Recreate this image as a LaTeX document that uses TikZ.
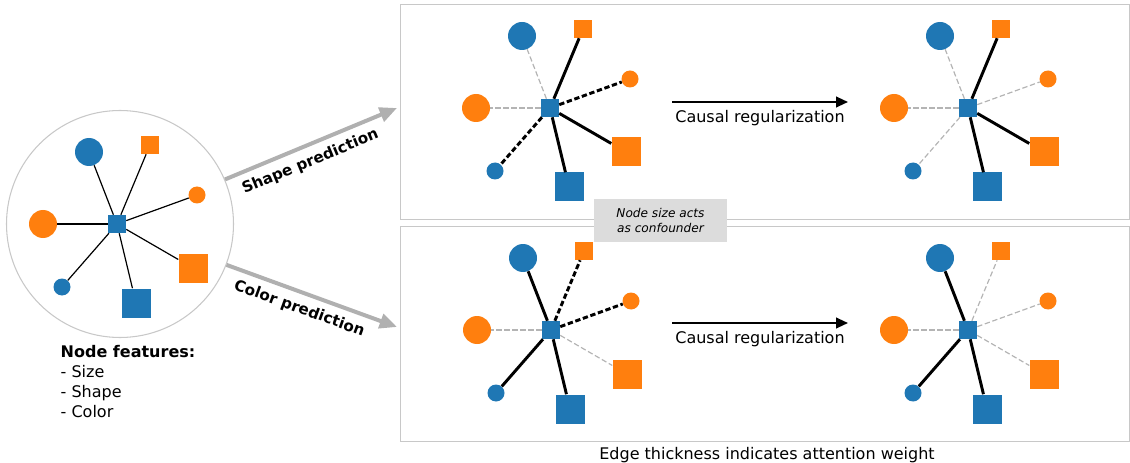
\documentclass[tikz,border=0pt]{standalone}
\usepackage{fontspec}
\setmainfont{DejaVu Sans}
\usetikzlibrary{arrows.meta}
\definecolor{tabblue}{HTML}{1F77B4}
\definecolor{taborange}{HTML}{FF7F0E}
\definecolor{edgegray}{HTML}{B4B4B4}
\definecolor{arrowgray}{HTML}{B0B0B0}
\definecolor{framegray}{HTML}{C8C8C8}
\definecolor{boxgray}{HTML}{DCDCDC}
\newcommand{\pxu}{0.75pt}
\tikzset{
	hub/.style={rectangle, fill=tabblue, minimum size=18*\pxu, inner sep=0pt},
	bigsq/.style={rectangle, minimum size=29*\pxu, inner sep=0pt},
	smallsq/.style={rectangle, minimum size=18*\pxu, inner sep=0pt},
	bigdot/.style={circle, minimum size=28*\pxu, inner sep=0pt},
	smalldot/.style={circle, minimum size=17*\pxu, inner sep=0pt},
	plain/.style={black, line width=0.9pt},
	weak/.style={edgegray, line width=0.9pt, dash pattern=on 4pt off 2pt},
	strong/.style={black, line width=2.2pt},
	strongdash/.style={black, line width=2.2pt, dash pattern=on 4pt off 2pt},
	bigarrow/.style={arrowgray, line width=3pt, -{Triangle[length=13pt, width=11pt]}},
	arrowlabel/.style={pos=0.46, below=2pt, sloped, text=black,
		font=\fontsize{11.4pt}{13pt}\selectfont\bfseries},
	causal/.style={black, line width=1.5pt, -{Triangle[length=9pt, width=8pt]}},
	frame/.style={draw=framegray, line width=0.8pt}
}
% one star graph: #1 centre, #2 name prefix, #3 leaf/edge style list
\newcommand{\stargraph}[3]{
	\begin{scope}[shift={#1}]
		\node[hub] (#2c) at (0,0) {};
		\node[bigdot, fill=tabblue] (#2bbd) at (-28,-72) {};
		\node[smallsq, fill=taborange] (#2sos) at (33,-79) {};
		\node[smalldot, fill=taborange] (#2sod) at (80,-29) {};
		\node[bigdot, fill=taborange] (#2bod) at (-74,0) {};
		\node[bigsq, fill=taborange] (#2bos) at (76,44) {};
		\node[smalldot, fill=tabblue] (#2sbd) at (-55,63) {};
		\node[bigsq, fill=tabblue] (#2bbs) at (19,79) {};
		\foreach \leaf/\sty in {#3}
		\draw[\sty] (#2c) -- (#2\leaf);
	\end{scope}}
\begin{document}
\begin{tikzpicture}[x=0.75pt, y=-0.75pt, font=\fontsize{12pt}{15pt}\selectfont]
	\useasboundingbox (0,0) rectangle (1130,463);
	% input graph
	\node[circle, draw=framegray, line width=0.8pt, minimum size=227*\pxu] (ring) at (120,224) {};
	\stargraph{(117,224)}{L}{bbd/plain,sos/plain,sod/plain,bod/plain,
		bos/plain,sbd/plain,bbs/plain}
	\node[anchor=north west, align=left] (feat) at (56,341)
	{\textbf{Node features:}\\- Size\\- Shape\\- Color};
	% panels
	\node[frame, minimum width=729*\pxu, minimum height=215*\pxu,
	anchor=north west] (toppanel) at (400,4) {};
	\node[frame, minimum width=729*\pxu, minimum height=215*\pxu,
	anchor=north west] (botpanel) at (400,226) {};
	\coordinate (shapetip) at (397,108);
	\coordinate (colortip) at (397,327);
	\draw[bigarrow] (ring.23) -- (shapetip) node[arrowlabel] {Shape prediction};
	\draw[bigarrow] (ring.-21) -- (colortip) node[arrowlabel] {Color prediction};
	% attention graphs
	\stargraph{(550,108)}{TA}{bbd/weak,sos/strong,sod/strongdash,bod/weak,
		bos/strong,sbd/strongdash,bbs/strong}
	\stargraph{(968,108)}{TB}{bbd/weak,sos/strong,sod/weak,bod/weak,
		bos/strong,sbd/weak,bbs/strong}
	\stargraph{(551,330)}{BA}{bbd/strong,sos/strongdash,sod/strongdash,bod/weak,
		bos/weak,sbd/strong,bbs/strong}
	\stargraph{(968,330)}{BB}{bbd/strong,sos/weak,sod/weak,bod/weak,
		bos/weak,sbd/strong,bbs/strong}
	\foreach \y/\nm in {102/topreg, 323/botreg} {
		\coordinate (\nm a) at (672,\y);
		\coordinate (\nm b) at (848,\y);
		\draw[causal] (\nm a) -- (\nm b)
		node[midway, below=2pt] {Causal regularization};
	}
	\node[fill=boxgray, minimum width=133*\pxu, minimum height=43*\pxu,
	align=center, font=\fontsize{9.1pt}{10.8pt}\selectfont\itshape] (confound) at (660.5,220.5)
	{Node size acts\\as confounder};
	\node (caption) at (767,455) {Edge thickness indicates attention weight};
\end{tikzpicture}
\end{document}
